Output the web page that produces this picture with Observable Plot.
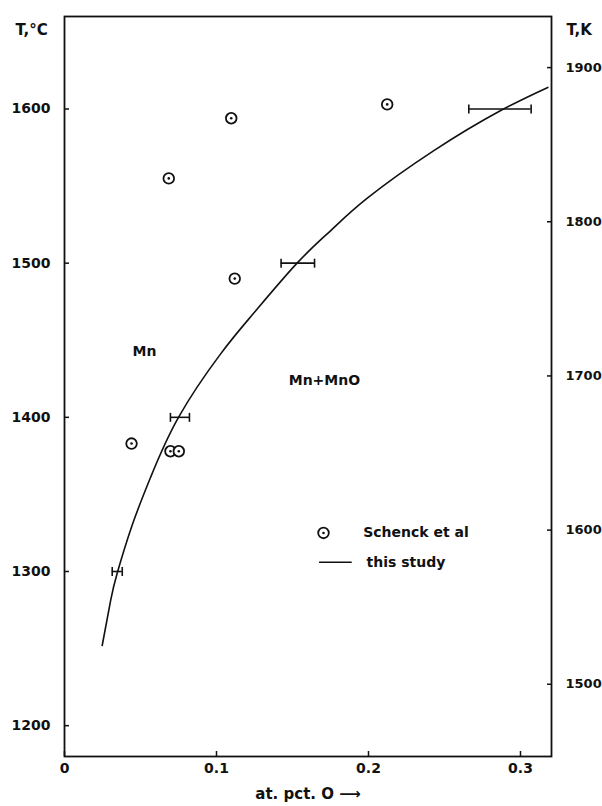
<!DOCTYPE html>
<html>
<head>
<meta charset="utf-8">
<script src="https://cdn.jsdelivr.net/npm/d3@7"></script>
<script src="https://cdn.jsdelivr.net/npm/@observablehq/plot@0.6"></script>
<style>
  html, body { margin: 0; padding: 0; background: #fff; }
  svg { display: block; }
</style>
</head>
<body>
<div id="chart"></div>
<script>
// "this study" phase boundary (at. pct. O, °C)
const curveX = [0.0248, 0.0303, 0.0347, 0.0445, 0.0566, 0.075, 0.1026, 0.124, 0.153, 0.175, 0.199, 0.243, 0.287, 0.318];
const curveT = [1252, 1281, 1299, 1330, 1361, 1400, 1441, 1467, 1500, 1521, 1542, 1573, 1599, 1614];

// error bars of this study
const errT  = [1300, 1400, 1500, 1600];
const errLo = [0.0314, 0.0697, 0.1425, 0.266];
const errHi = [0.038, 0.0822, 0.1645, 0.307];

// Schenck et al points
const schX = [0.0686, 0.1097, 0.2123, 0.112, 0.0441, 0.0697, 0.0752];
const schT = [1555, 1594, 1603, 1490, 1383, 1378, 1378];

// ticks
const xTicks = [0, 0.1, 0.2, 0.3];
const cTicks = [1200, 1300, 1400, 1500, 1600];
const kTicks = [1500, 1600, 1700, 1800, 1900];

// region labels
const regionText = ["Mn", "Mn+MnO"];
const regionX = [0.0526, 0.171];
const regionT = [1443, 1424];

// legend
const legendText = ["Schenck et al", "this study"];
const legendMarkX = [0.1704, 0.1678];
const legendMarkX2 = [null, 0.1893];
const legendTextX = [0.1965, 0.1987];
const legendT = [1325, 1306];

const curve = curveX.map((x, i) => ({x, T: curveT[i]}));
const errs = errT.map((T, i) => ({T, lo: errLo[i], hi: errHi[i]}));
const sch = schX.map((x, i) => ({x, T: schT[i]}));
const regions = regionText.map((t, i) => ({t, x: regionX[i], T: regionT[i]}));
const legend = legendText.map((t, i) => ({t, mx: legendMarkX[i], mx2: legendMarkX2[i], tx: legendTextX[i], T: legendT[i]}));

const cap = {draw(ctx) { ctx.moveTo(0, -4.5); ctx.lineTo(0, 4.5); }};
const ink = "#111";

const chart = Plot.plot({
  width: 602,
  height: 806,
  marginLeft: 64,
  marginRight: 51,
  marginTop: 16,
  marginBottom: 50,
  style: {fontFamily: "DejaVu Sans", fontWeight: "bold", fontSize: "14px", color: ink, background: "#fff"},
  x: {domain: [0, 0.3204]},
  y: {domain: [1180, 1660]},
  marks: [
    Plot.frame({stroke: ink, strokeWidth: 1.8}),
    Plot.axisX(xTicks, {anchor: "bottom", tickSize: -5, tickPadding: 12, tickFormat: d => String(d), label: null, strokeWidth: 1.5, fontSize: 14}),
    Plot.axisY(cTicks, {anchor: "left", tickSize: -5, tickPadding: 19, tickFormat: d => String(d), label: null, strokeWidth: 1.5, fontSize: 14}),
    Plot.axisY(kTicks.map(k => k - 273.15), {anchor: "right", tickSize: -5, tickPadding: 19, tickFormat: d => String(Math.round(d + 273.15)), label: null, strokeWidth: 1.5, fontSize: 13}),
    Plot.line(curve, {x: "x", y: "T", curve: "natural", stroke: ink, strokeWidth: 1.6}),
    Plot.ruleY(errs, {x1: "lo", x2: "hi", y: "T", stroke: ink, strokeWidth: 1.6}),
    Plot.dot(errs, {x: "lo", y: "T", symbol: cap, stroke: ink, strokeWidth: 1.6, fill: "none"}),
    Plot.dot(errs, {x: "hi", y: "T", symbol: cap, stroke: ink, strokeWidth: 1.6, fill: "none"}),
    Plot.dot(sch, {x: "x", y: "T", r: 5.3, stroke: ink, strokeWidth: 1.8, fill: "white"}),
    Plot.dot(sch, {x: "x", y: "T", r: 1.3, fill: ink}),
    Plot.text(regions, {x: "x", y: "T", text: "t", fontSize: 14, fill: ink, style: "letter-spacing:1px"}),
    Plot.dot(legend.slice(0, 1), {x: "mx", y: "T", r: 5.3, stroke: ink, strokeWidth: 1.8, fill: "white"}),
    Plot.dot(legend.slice(0, 1), {x: "mx", y: "T", r: 1.3, fill: ink}),
    Plot.ruleY(legend.slice(1), {x1: "mx", x2: "mx2", y: "T", stroke: ink, strokeWidth: 1.6}),
    Plot.text(legend, {x: "tx", y: "T", text: "t", textAnchor: "start", fontSize: 14, fill: ink, style: "letter-spacing:0.4px;word-spacing:4px"}),
    Plot.text(["T,°C"], {text: d => d, frameAnchor: "top-left", dx: -49, dy: 8, textAnchor: "start", fontSize: 15, fill: ink}),
    Plot.text(["T,K"], {text: d => d, frameAnchor: "top-right", dx: 15, dy: 8, textAnchor: "start", fontSize: 15, fill: ink}),
    Plot.text(["at. pct. O ⟶"], {text: d => d, frameAnchor: "bottom", dy: 42, fontSize: 15, fill: ink})
  ]
});
document.getElementById("chart").appendChild(chart);
</script>
</body>
</html>
